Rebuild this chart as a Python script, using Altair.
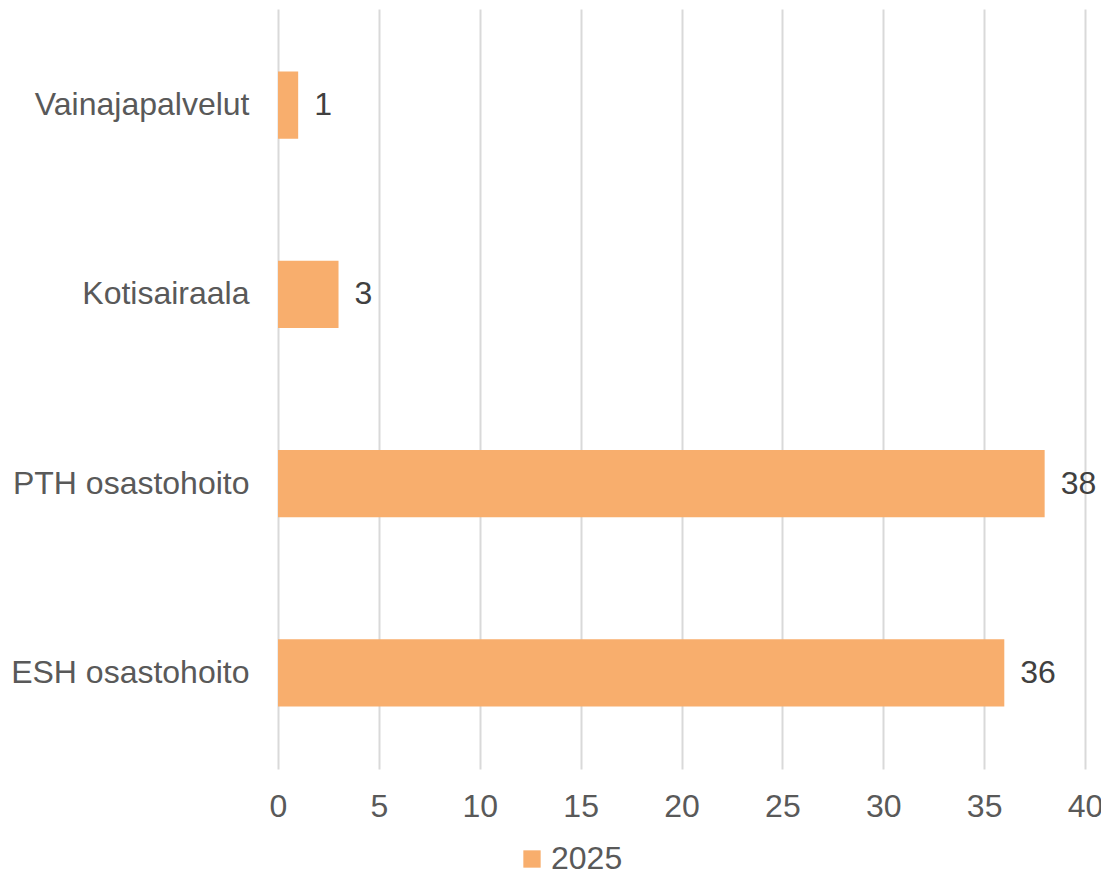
import altair as alt
import pandas as pd

categories = ["Vainajapalvelut", "Kotisairaala", "PTH osastohoito", "ESH osastohoito"]
values_2025 = [1, 3, 38, 36]
series_name = "2025"

df = pd.DataFrame({"category": categories, "value": values_2025, "series": [series_name] * len(categories)})

FONT = "Liberation Sans"
BAR = "#F8AE6D"

base = alt.Chart(df).encode(
    y=alt.Y("category:N", sort=categories, title=None,
            scale=alt.Scale(paddingInner=0.645, paddingOuter=0.33),
            axis=alt.Axis(labelFontSize=32, labelColor="#595959", labelFont=FONT,
                          ticks=False, domain=False, labelPadding=29, grid=False,
                          labelLimit=400)),
    x=alt.X("value:Q", title=None,
            scale=alt.Scale(domain=[0, 40], nice=False),
            axis=alt.Axis(values=list(range(0, 45, 5)), labelFontSize=32, labelColor="#595959",
                          labelFont=FONT, ticks=False, domain=False, grid=True,
                          gridColor="#D9D9D9", gridWidth=2, labelPadding=22, labelFlush=False)),
)

bars = base.mark_bar(color=BAR).encode(
    color=alt.Color("series:N", scale=alt.Scale(range=[BAR]), title=None,
                    legend=alt.Legend(orient="none", legendX=238, legendY=834, symbolType="square",
                                      symbolSize=300, symbolStrokeWidth=0, labelFontSize=32,
                                      labelColor="#595959", labelFont=FONT, symbolOffset=0,
                                      labelOffset=3))
)

text = base.mark_text(align="left", baseline="middle", dx=16, fontSize=32,
                      font=FONT, color="#404040").encode(text="value:Q")

chart = (bars + text).properties(
    width=807, height=760,
    autosize=alt.AutoSizeParams(type="none"),
    padding={"left": 270, "top": 1, "right": 16, "bottom": 102},
).configure(background="white").configure_view(stroke=None, strokeWidth=0)

chart.save("out.html", embed_options={"renderer": "svg", "actions": False})
